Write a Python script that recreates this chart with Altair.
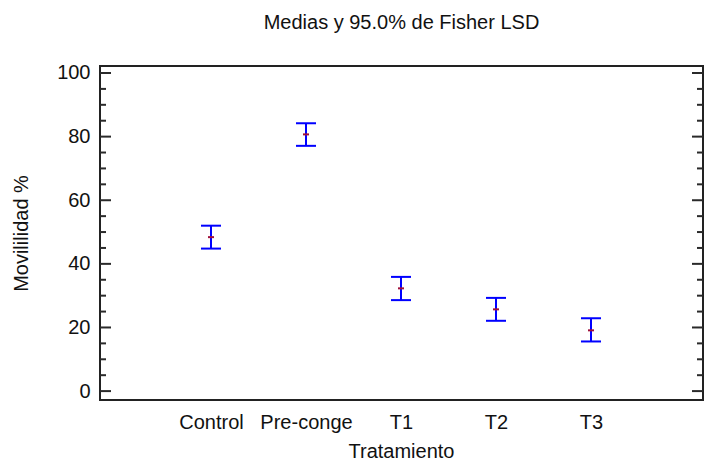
import altair as alt
import pandas as pd

# Data
tratamientos = ["Control", "Pre-conge", "T1", "T2", "T3"]
medias = [48.4, 80.7, 32.3, 25.7, 19.1]
limite_inf = [44.8, 77.1, 28.6, 22.1, 15.6]
limite_sup = [52.0, 84.2, 35.9, 29.3, 22.9]

ticks_mayores = [0, 20, 40, 60, 80, 100]
ticks_menores = [5, 10, 15, 25, 30, 35, 45, 50, 55, 65, 70, 75, 85, 90, 95]

W, H = 603, 334
FONT = "Liberation Sans"

df = pd.DataFrame({
    "Tratamiento": tratamientos,
    "media": medias,
    "inf": limite_inf,
    "sup": limite_sup,
})
df_may = pd.DataFrame({"v": ticks_mayores})
df_men = pd.DataFrame({"v": ticks_menores})

yscale = alt.Scale(domain=[-2.8, 102.2], nice=False, zero=False)
xscale = alt.Scale(type="point", domain=tratamientos, range=[111, 491], padding=0)

x_enc = alt.X("Tratamiento:N", scale=xscale, sort=tratamientos,
              axis=alt.Axis(title="Tratamiento", labelAngle=0, ticks=False, domain=False,
                            labelPadding=12, titlePadding=9, grid=False))
y_axis = alt.Axis(title="Movililidad %", values=ticks_mayores, ticks=False, domain=False,
                  grid=False, labelPadding=10, titlePadding=25)

BLUE = "#0000ff"

bars = alt.Chart(df).mark_rule(color=BLUE, strokeWidth=2, opacity=1).encode(
    x=x_enc,
    y=alt.Y("inf:Q", scale=yscale, axis=y_axis),
    y2="sup:Q",
)
cap_lo = alt.Chart(df).mark_tick(color=BLUE, size=20, thickness=2, opacity=1).encode(
    x=alt.X("Tratamiento:N", scale=xscale, sort=tratamientos),
    y=alt.Y("inf:Q", scale=yscale),
)
cap_hi = alt.Chart(df).mark_tick(color=BLUE, size=20, thickness=2, opacity=1).encode(
    x=alt.X("Tratamiento:N", scale=xscale, sort=tratamientos),
    y=alt.Y("sup:Q", scale=yscale),
)
mean_mark = alt.Chart(df).mark_tick(color="#a0103a", size=6, thickness=2, opacity=1).encode(
    x=alt.X("Tratamiento:N", scale=xscale, sort=tratamientos),
    y=alt.Y("media:Q", scale=yscale),
)

TK = "#2a2a2a"
def tick_layer(data, x0, x1):
    return alt.Chart(data).mark_rule(color=TK, strokeWidth=2).encode(
        y=alt.Y("v:Q", scale=yscale),
        x=alt.value(x0), x2=alt.value(x1),
    )

chart = alt.layer(
    tick_layer(df_may, 0, 11),
    tick_layer(df_men, 0, 6),
    tick_layer(df_may, W - 11, W),
    tick_layer(df_men, W - 6, W),
    bars, cap_lo, cap_hi, mean_mark,
).properties(
    width=W, height=H,
    background="white",
    title=alt.TitleParams("Medias y 95.0% de Fisher LSD", fontSize=20, font=FONT,
                          fontWeight="normal", color="#111", anchor="middle",
                          baseline="alphabetic", offset=14),
    autosize=alt.AutoSizeParams(type="none"),
    padding={"left": 92, "top": 58, "right": 4, "bottom": 62},
).configure_view(
    stroke="#222", strokeWidth=2
).configure_axis(
    labelFont=FONT, titleFont=FONT, labelFontSize=20, titleFontSize=20,
    labelColor="#111", titleColor="#111", titleFontWeight="normal",
)

chart.save("out.html", embed_options={"renderer": "svg", "actions": False})
